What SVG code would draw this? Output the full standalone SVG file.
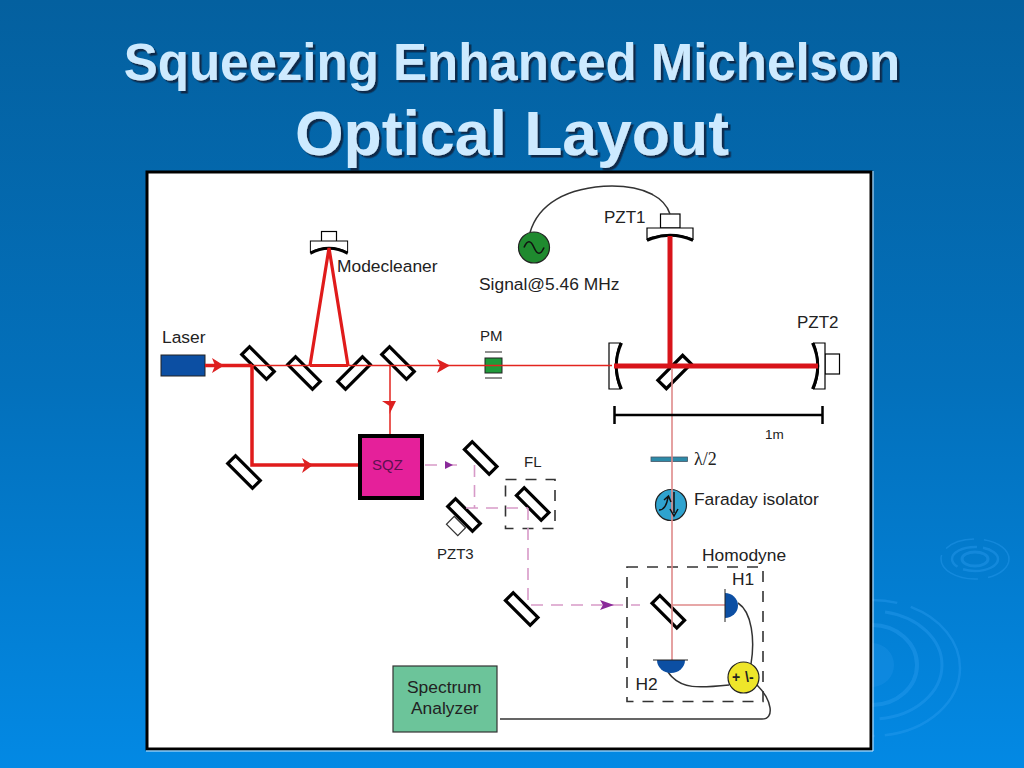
<svg xmlns="http://www.w3.org/2000/svg" width="1024" height="768" viewBox="0 0 1024 768">
<style>
text{font-family:"Liberation Sans",Arial,sans-serif;fill:#222;font-size:17.4px}
.title{fill:#cdeaff;font-weight:bold;text-anchor:middle;filter:url(#sh)}
.small{font-size:15px}
.bs{fill:#fff;stroke:#000;stroke-width:3.2}
.thin{stroke:#e3241f;stroke-width:1.5;fill:none}
.mid{stroke:#e01b1b;stroke-width:3.5;fill:none}
.thick{stroke:#d8141a;stroke-width:5;fill:none}
.pale{stroke:#df8a8a;stroke-width:1.6;fill:none}
.pink{stroke:#d79ac8;stroke-width:1.6;fill:none;stroke-dasharray:12 8}
.box{stroke:#333;stroke-width:1.6;fill:none;stroke-dasharray:11 9}
.wire{stroke:#333;stroke-width:1.5;fill:none}
.ring{fill:none;stroke:#2e9df0}
.line{fill:#fff;stroke:#000;stroke-width:1.2}
</style>
<defs>
<filter id="sh" x="-5%" y="-10%" width="110%" height="125%"><feDropShadow dx="2.5" dy="2.5" stdDeviation="0.6" flood-color="#0a2c4c"/></filter>
<linearGradient id="bg" x1="0" y1="0" x2="0" y2="1"><stop offset="0" stop-color="#04609f"/><stop offset="0.5" stop-color="#0370bb"/><stop offset="1" stop-color="#0389e4"/></linearGradient>
<rect id="m" x="-17.5" y="-5.5" width="35" height="11" class="bs"/>
<g id="cm"><path d="M-23 0V-11H23V0Q0 -9 -23 0Z" class="line"/><path d="M-23 1.5Q0 -9 23 1.5" fill="none" stroke="#000" stroke-width="3"/></g>
</defs>
<rect width="1024" height="768" fill="url(#bg)"/>
<g id="ripples" opacity=".4">
<ellipse class="ring" cx="975" cy="559" rx="13" ry="7" stroke-width="3"/>
<ellipse class="ring" cx="975" cy="559" rx="23" ry="12" stroke-width="2.5" stroke-dasharray="40 6"/>
<ellipse class="ring" cx="975" cy="559" rx="34" ry="20" stroke-width="1.5" stroke-dasharray="30 10 50 8"/>
<circle cx="872" cy="665" r="22" fill="#2e9df0" opacity=".6"/>
<ellipse class="ring" cx="872" cy="665" rx="45" ry="40" stroke-width="4"/>
<ellipse class="ring" cx="872" cy="665" rx="70" ry="54" stroke-width="3" stroke-dasharray="90 12"/>
<ellipse class="ring" cx="872" cy="668" rx="88" ry="68" stroke-width="2.5" stroke-dasharray="110 10 70 14"/>
</g>
<text class="title" x="512" y="80" style="font-size:51px">Squeezing Enhanced Michelson</text>
<text class="title" x="512" y="155" style="font-size:62.5px">Optical Layout</text>
<rect x="147" y="172" width="724" height="577" fill="#fff" stroke="#000" stroke-width="3"/>
<path d="M873 171V751H146" fill="none" stroke="#cfeaff" stroke-width="1"/>

<g id="laser"><rect x="161" y="355" width="44" height="21" fill="#0c4fa3" stroke="#222"/><text x="162" y="343">Laser</text></g>
<g id="m1"><use href="#m" transform="translate(258 363) rotate(45)"/></g>
<g id="m2"><use href="#m" transform="translate(304 373) rotate(45)"/></g>
<g id="m3"><use href="#m" transform="translate(354 373) rotate(-45)"/></g>
<g id="m4"><use href="#m" transform="translate(398 363) rotate(45)"/></g>
<g id="m5"><use href="#m" transform="translate(244 472) rotate(45)"/></g>
<g id="modecleaner"><rect x="321.5" y="231.5" width="15" height="11" class="line"/><use href="#cm" transform="translate(329 252) scale(.81 1)"/><text x="337" y="271.5">Modecleaner</text></g>
<g id="sqz"><rect x="360" y="436" width="62" height="62" fill="#e5209a" stroke="#000" stroke-width="4"/><text x="372" y="470" style="fill:#5e1050;font-size:15px">SQZ</text></g>
<g id="signal"><circle cx="534" cy="247.5" r="15.5" fill="#1f8a2f" stroke="#222" stroke-width="1.2"/><path d="M524 247.5Q529 236 534 247.5T544 247.5" fill="none" stroke="#111" stroke-width="1.6"/><text x="479" y="290">Signal@5.46 MHz</text></g>
<g id="pzt1"><rect x="660.5" y="214" width="19.5" height="14" class="line"/><use href="#cm" transform="translate(670 239)"/><text x="604" y="222.5" style="font-size:17px">PZT1</text></g>
<g id="pm"><path stroke="#222" d="M485 352H502M485 378H502"/><rect x="485" y="358" width="17" height="15" fill="#1f9a3a" stroke="#222"/><text x="480" y="341" class="small">PM</text></g>
<g id="m-west"><use href="#cm" transform="translate(620 366) rotate(-90)"/></g>
<g id="bs"><rect x="-17.5" y="-6" width="35" height="12" class="bs" transform="translate(674.5 372) rotate(-45)"/></g>
<g id="pzt2"><rect x="825" y="354" width="14.5" height="20" class="line"/><use href="#cm" transform="translate(814 366) rotate(90)"/><text x="797" y="327.5" style="font-size:17px">PZT2</text></g>
<text id="scale" x="765" y="438.5" style="font-size:13.5px">1m</text>
<g id="wp"><rect x="651" y="457" width="36.5" height="4.5" fill="#2d8aa8" stroke="#456" stroke-width=".8"/><text x="694" y="465" style="font-family:'Liberation Serif',serif;font-size:18px">λ/2</text></g>
<g id="faraday"><circle cx="671" cy="505" r="15.5" fill="#2fa3cf" stroke="#222" stroke-width="1.2"/><text x="694" y="505">Faraday isolator</text></g>
<g id="m6"><use href="#m" transform="translate(480.7 458) rotate(45)"/></g>
<g id="pzt3"><rect x="448" y="520.5" width="16" height="11" fill="#fff" stroke="#333" stroke-width="1.2" transform="rotate(45 456 526)"/><use href="#m" transform="translate(464 515) rotate(45)"/><text x="437" y="558.5" class="small">PZT3</text></g>
<g id="fl"><rect x="505.5" y="479.5" width="49.5" height="49" class="box"/><use href="#m" transform="translate(532.7 504) rotate(45)"/><text x="524" y="467" class="small">FL</text></g>
<g id="m7"><use href="#m" transform="translate(521.7 609) rotate(45)"/></g>
<g id="homodyne"><rect x="627" y="567" width="136" height="134.5" class="box"/><use href="#m" transform="translate(668.3 611.7) rotate(45)"/><text x="702" y="561">Homodyne</text></g>
<g id="spectrum"><rect x="393" y="666" width="104" height="66" fill="#6cc49a" stroke="#333" stroke-width="1.2"/><text x="407" y="693">Spectrum</text><text x="411" y="714">Analyzer</text></g>

<g id="connectors">
<path class="mid" d="M205 365.5H252M252 365.5V465H358"/>
<path class="mid" d="M310 365.5L329 248L348 365.5M310 365.5H348" style="stroke-width:3.2"/>
<path class="thin" d="M252 365.5H612M390 366V434"/>
<path class="thick" d="M670 236V366M614 366H818"/>
<path class="pale" d="M672 368V660M672 605H725"/>
<path class="pink" d="M425 465H458M474.5 465V508M466 508H528M528 508V605H640"/>
<path class="wire" d="M530 232.5C538 205 565 187 612 186C645 186 665 198 670 214"/>
<path class="wire" d="M738 603C752 612 755 640 751 664M668 672C680 690 700 688 729 685M757 685C772 700 775 719 762 719H500"/>
<path fill="#dd2020" d="M212 358L224 365.5L212 373L215 365.5ZM437 359L450 365.5L437 373L440 365.5ZM382 401L396 401L389.5 414L389.5 406ZM302 458L313 465L302 473L305 465Z"/>
<path fill="#8a2a9a" d="M445 461L453 465L445 469ZM600 600L614 605L600 610L603 605Z"/>
<path stroke="#000" stroke-width="2.5" fill="none" d="M614.5 406V424M614.5 415H822.5M822.5 406V424"/>
<path d="M674 492V513M670 509L674 516L678 509" fill="none" stroke="#111" stroke-width="1.5"/>
<path d="M659 510C665 510 667 504 668 497M664 500L668.5 496L671 502" fill="none" stroke="#111" stroke-width="1.5"/>
</g>

<g id="h1"><path d="M725 593A13 12.5 0 0 1 725 618Z" fill="#0c4fa3"/><path d="M725 589V622" stroke="#222"/><text x="732" y="585">H1</text></g>
<g id="h2"><path d="M657 660H685A14 13 0 0 1 657 660Z" fill="#0c4fa3"/><path d="M653 660H688" stroke="#222"/><text x="635.5" y="690">H2</text></g>
<g id="sum"><circle cx="743.5" cy="677.5" r="15.5" fill="#eee52a" stroke="#222" stroke-width="1.2"/><text x="732" y="682" style="font-size:14px;font-weight:bold">+</text><text x="745" y="682" style="font-size:14px;font-weight:bold">\-</text></g>
</svg>
